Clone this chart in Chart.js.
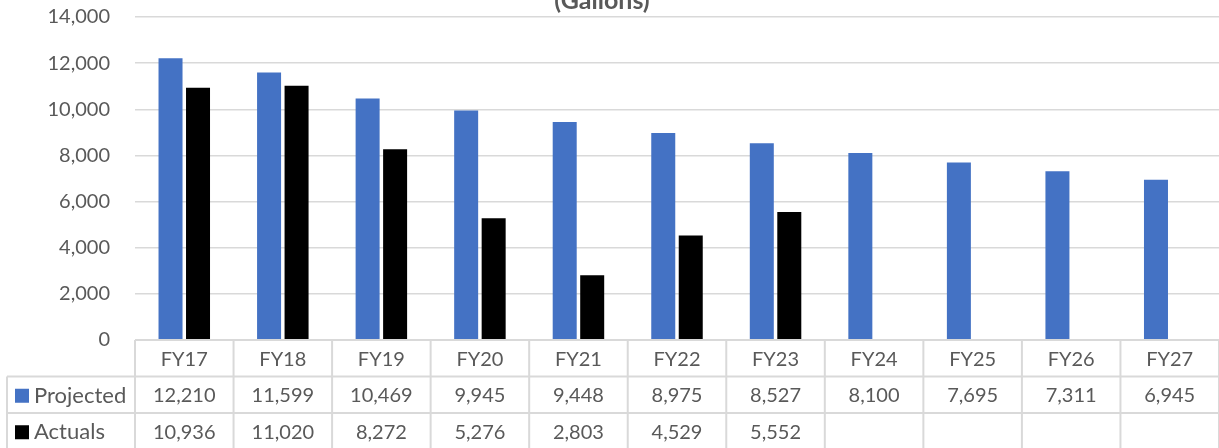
<!DOCTYPE html>
<html>
<head>
<meta charset="utf-8">
<script src="https://cdn.jsdelivr.net/npm/chart.js@4/dist/chart.umd.min.js"></script>
<style>
  html, body { margin: 0; padding: 0; background: #ffffff; overflow: hidden; }
  canvas { display: block; }
</style>
</head>
<body>
<canvas id="fuel" width="1219" height="448"></canvas>
<script>
// Fiscal years and gallons per year
const categories = ['FY17', 'FY18', 'FY19', 'FY20', 'FY21', 'FY22', 'FY23', 'FY24', 'FY25', 'FY26', 'FY27'];
const projected = [12210, 11599, 10469, 9945, 9448, 8975, 8527, 8100, 7695, 7311, 6945];
const actuals = [10936, 11020, 8272, 5276, 2803, 4529, 5552, null, null, null, null];
const seriesNames = ['Projected', 'Actuals'];
const yMin = 0, yMax = 14000, yStep = 2000;

const FONT = 'Lato, "Liberation Sans", sans-serif';
const TEXT = '#595959';
const LINE = '#d9d9d9';
const BLUE = '#4472C4';
const BLACK = '#000000';

const fmt = v => (v === null || v === undefined) ? '' : v.toLocaleString('en-US');

// Title line above the plot
const titlePlugin = {
  id: 'topTitle',
  afterDraw(chart) {
    const ctx = chart.ctx;
    ctx.save();
    ctx.font = 'bold 25px ' + FONT;
    ctx.fillStyle = TEXT;
    ctx.textAlign = 'center';
    ctx.textBaseline = 'alphabetic';
    ctx.fillText('(Gallons)', 602, 9);
    ctx.restore();
  }
};

// Data table under the x axis: category row, then one row per series
const tablePlugin = {
  id: 'dataTable',
  afterDraw(chart) {
    const ctx = chart.ctx;
    const x = chart.scales.x;
    const area = chart.chartArea;
    const n = categories.length;
    const cw = (x.right - x.left) / n;
    const rowH = 36.5;
    const top = area.bottom;
    const rows = [top, top + rowH, top + 2 * rowH, top + 3 * rowH];
    const labelLeft = 7;
    const series = [
      { name: seriesNames[0], color: BLUE, values: projected },
      { name: seriesNames[1], color: BLACK, values: actuals }
    ];

    ctx.save();
    ctx.strokeStyle = LINE;
    ctx.lineWidth = 2;
    ctx.beginPath();
    // horizontal rules
    ctx.moveTo(x.left, rows[0]); ctx.lineTo(chart.width, rows[0]);
    for (let r = 1; r <= 3; r++) {
      ctx.moveTo(labelLeft, rows[r]); ctx.lineTo(chart.width, rows[r]);
    }
    // vertical rules between categories
    for (let i = 0; i <= n; i++) {
      const bx = x.left + i * cw;
      ctx.moveTo(bx, rows[0]); ctx.lineTo(bx, rows[3]);
    }
    ctx.moveTo(labelLeft, rows[1]); ctx.lineTo(labelLeft, rows[3]);
    ctx.stroke();

    ctx.font = '20px ' + FONT;
    ctx.fillStyle = TEXT;
    ctx.textAlign = 'center';
    ctx.textBaseline = 'middle';
    categories.forEach((c, i) => {
      ctx.fillText(c, x.getPixelForValue(i), rows[0] + rowH / 2 + 1);
    });

    series.forEach((s, r) => {
      const cy = rows[r + 1] + rowH / 2 + 1;
      ctx.fillStyle = s.color;
      ctx.fillRect(15, cy - 7, 14, 14);
      ctx.fillStyle = TEXT;
      ctx.textAlign = 'left';
      ctx.font = '22px ' + FONT;
      ctx.fillText(s.name, 34, cy);
      ctx.font = '20px ' + FONT;
      ctx.textAlign = 'center';
      s.values.forEach((v, i) => {
        ctx.fillText(fmt(v), x.getPixelForValue(i), cy);
      });
    });
    ctx.restore();
  }
};

new Chart(document.getElementById('fuel'), {
  type: 'bar',
  data: {
    labels: categories,
    datasets: [
      { label: seriesNames[0], data: projected, backgroundColor: BLUE },
      { label: seriesNames[1], data: actuals, backgroundColor: BLACK }
    ]
  },
  options: {
    responsive: false,
    animation: false,
    devicePixelRatio: 1,
    layout: { padding: { top: 17, right: 0, left: 0, bottom: 0 } },
    datasets: { bar: { categoryPercentage: 0.558, barPercentage: 0.873 } },
    plugins: {
      legend: { display: false },
      tooltip: { enabled: false },
      title: { display: false }
    },
    scales: {
      x: {
        grid: { display: false },
        border: { display: false },
        ticks: { display: false },
        afterFit(scale) {
          scale.height = 108;
          scale.paddingLeft = 0; scale.paddingRight = 0;
        }
      },
      y: {
        min: yMin,
        max: yMax,
        grid: { color: LINE, lineWidth: 1.5, drawTicks: false },
        border: { display: false },
        ticks: {
          stepSize: yStep,
          padding: 25,
          color: TEXT,
          font: { family: FONT, size: 20 },
          callback: v => v.toLocaleString('en-US')
        },
        afterFit(scale) {
          scale.width = 135;
          scale.paddingTop = 0; scale.paddingBottom = 0;
        }
      }
    }
  },
  plugins: [titlePlugin, tablePlugin]
});
</script>
</body>
</html>
